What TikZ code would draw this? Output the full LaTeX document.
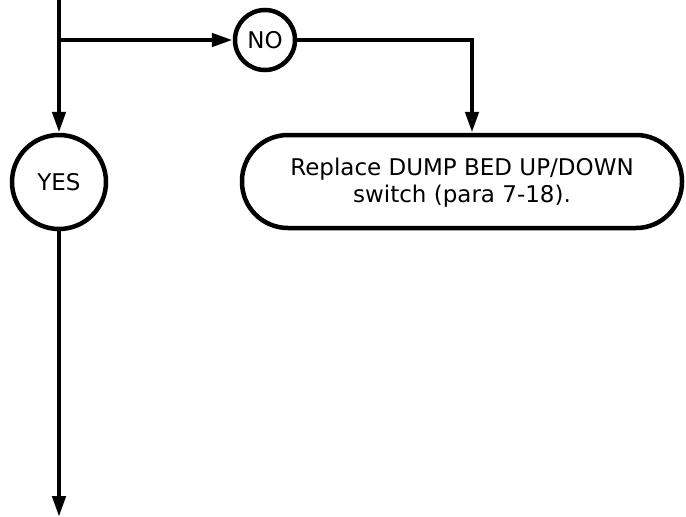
\documentclass[tikz,border=0pt]{standalone}
\usepackage{fontspec}
\setsansfont{DejaVu Sans}
\usetikzlibrary{arrows.meta}

\begin{document}
\begin{tikzpicture}[x=1pt,y=-1pt,line width=4.5pt,
  every node/.style={font=\sffamily\fontsize{23}{27}\selectfont},
  answer/.style={draw,circle,inner sep=0pt},
  action/.style={draw,rectangle,rounded corners=46pt,align=center,
    minimum width=440pt,minimum height=93pt},
  flow/.style={-{Triangle[length=21pt,width=13pt]}}]
  \useasboundingbox (0,0) rectangle (686,517);

  % Nodes
  \coordinate (top) at (59,0);
  \coordinate (split) at (59,40);
  \node[answer,minimum size=60pt] (no) at (265,40) {NO};
  \node[answer,minimum size=94pt] (yes) at (59,182) {YES};
  \node[action,text depth=2pt] (replace) at (462,181.5) {Replace DUMP BED UP/DOWN\\switch (para 7-18).};
  \coordinate (bend) at (472,40);
  \coordinate (next) at (59,517);

  % Connectors
  \draw[flow] (top) -- (yes);
  \draw[flow] (split) -- (no);
  \draw[flow] (no) -- (bend) -- (bend |- replace.north);
  \draw[flow] (yes) -- (next);
\end{tikzpicture}
\end{document}
